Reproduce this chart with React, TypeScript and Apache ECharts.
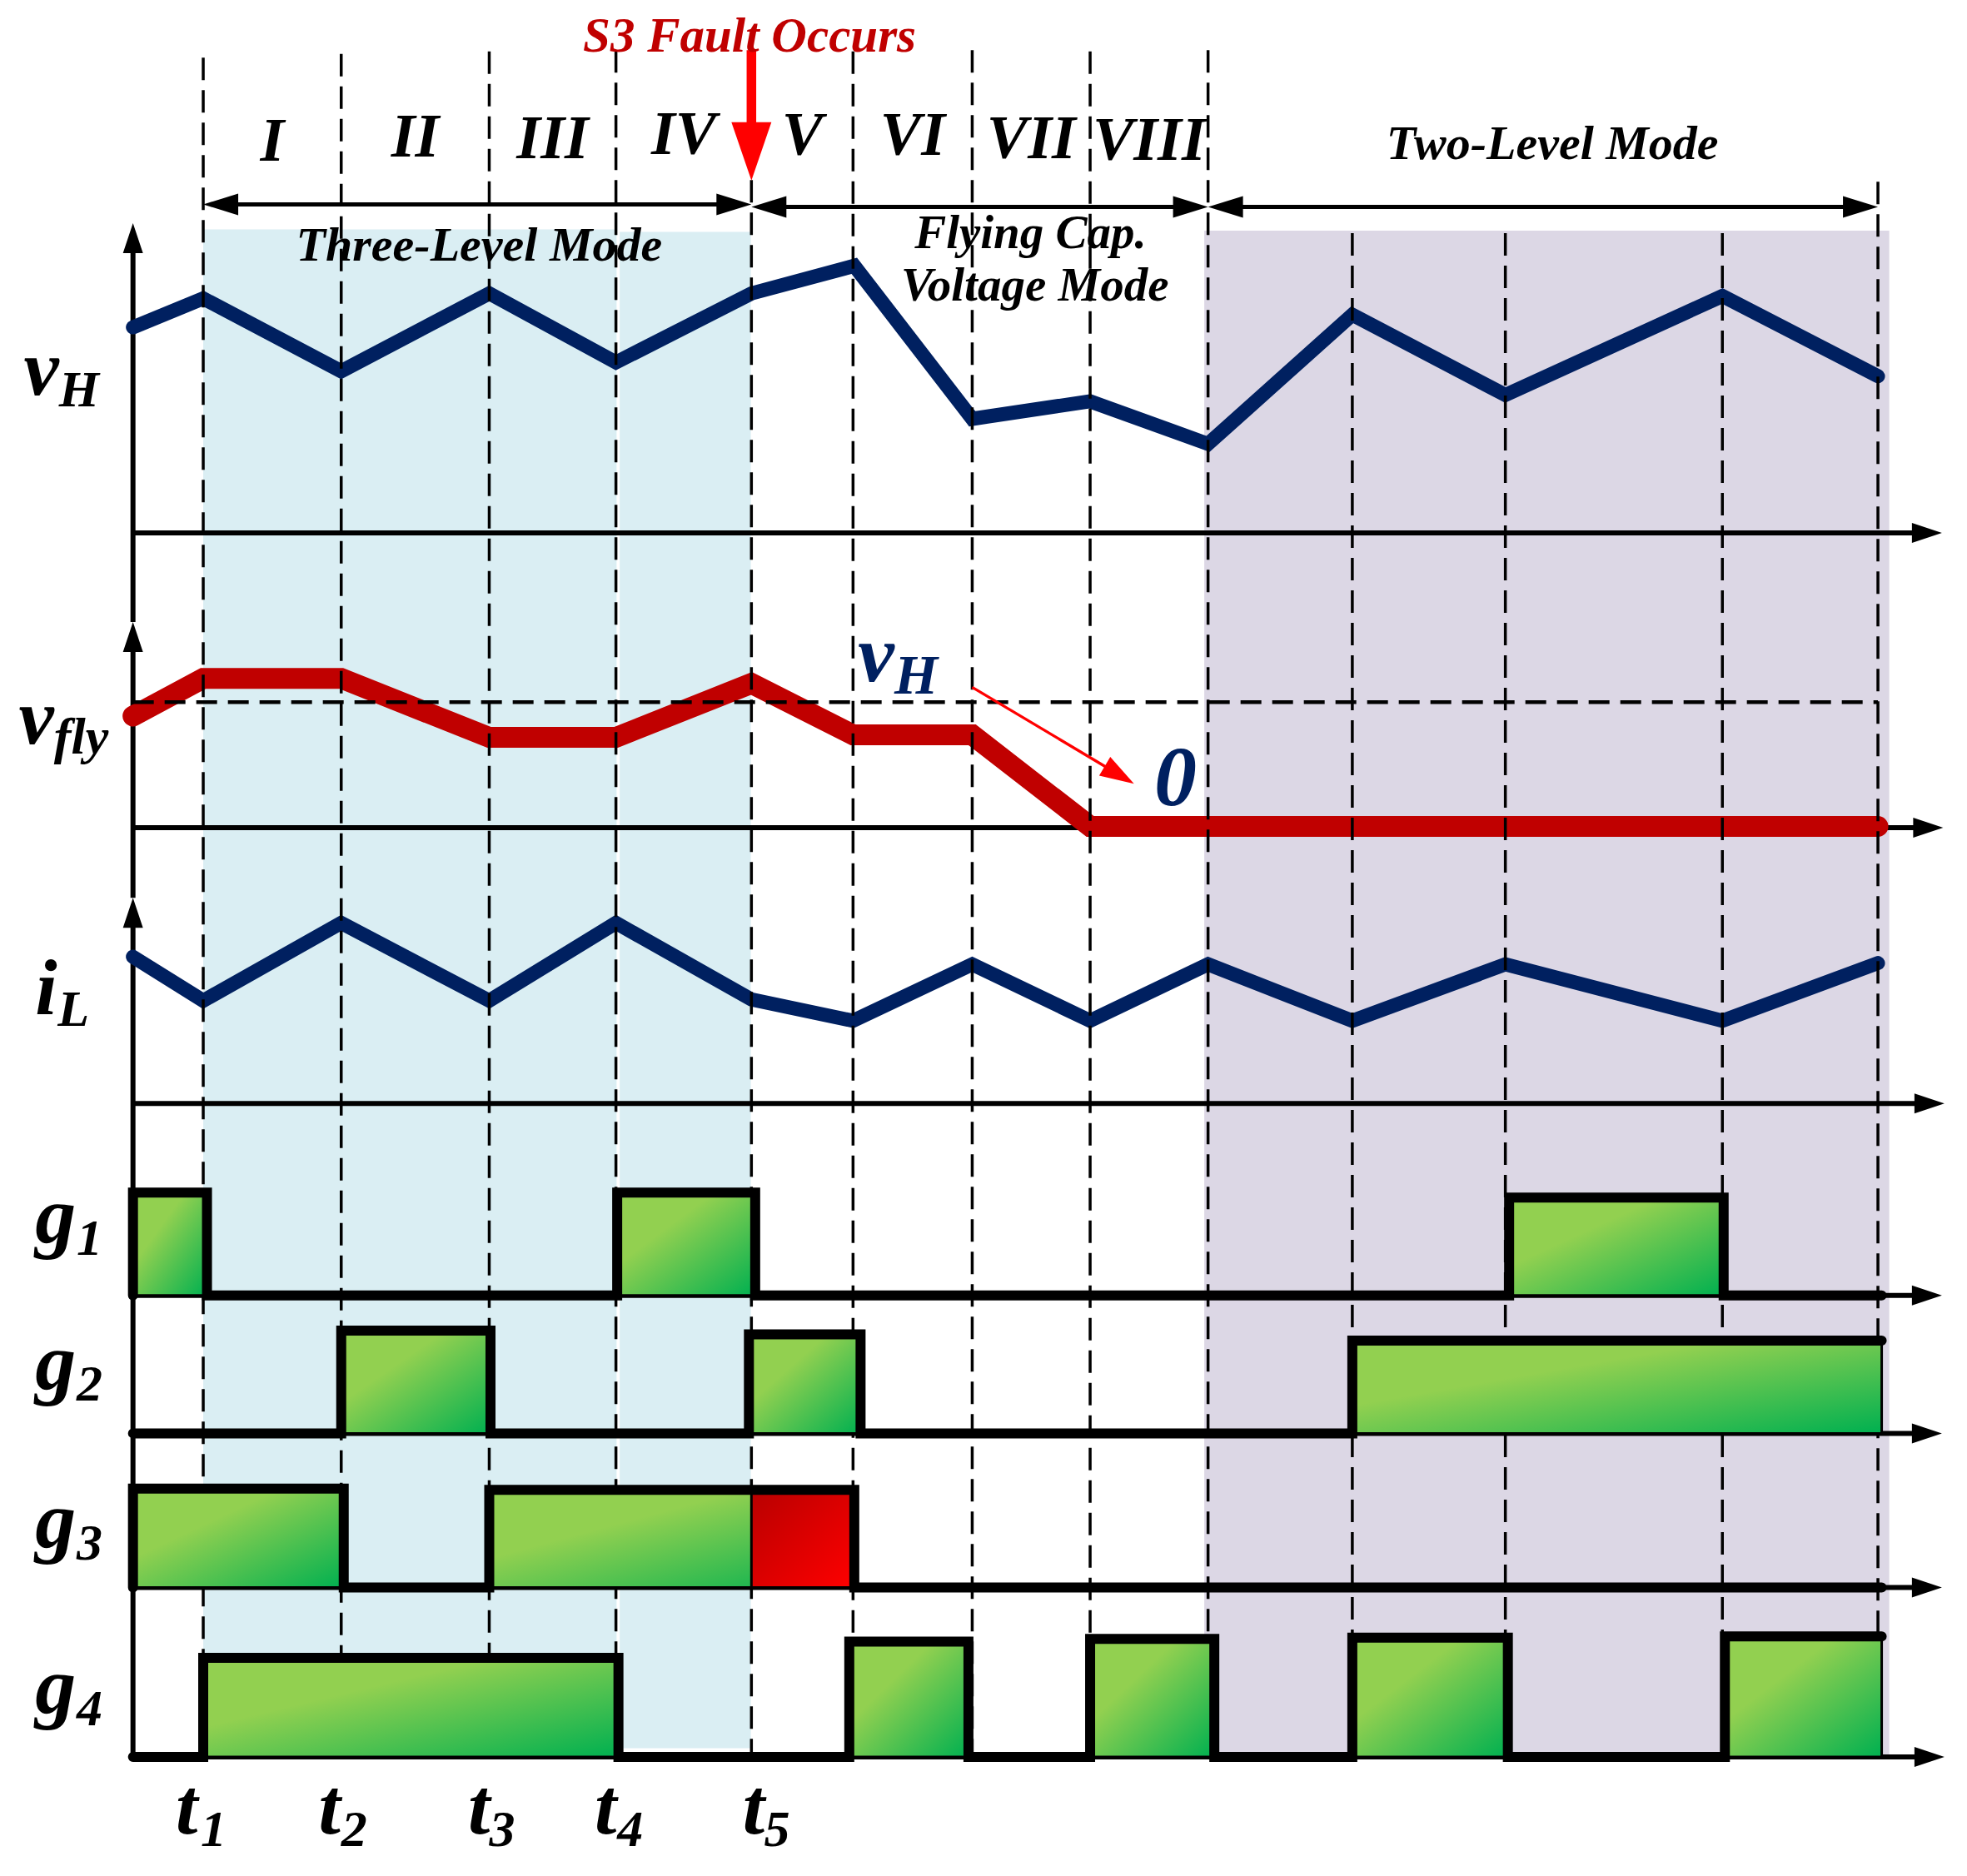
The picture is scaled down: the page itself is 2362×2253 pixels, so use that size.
import React, { useEffect, useRef } from "react";
import * as echarts from "echarts";

// ---------- page frame ----------
const PAGE_W = 2362;
const PAGE_H = 2253;
const X_MAX = 1568; // picture units across
const Y_MAX = 1496; // picture units down

// ---------- data (picture units) ----------
const switchingInstants = [162, 272, 390, 491, 599, 680, 775, 869, 963, 1078, 1200, 1373, 1497];
const phaseNames = ["I", "II", "III", "IV", "V", "VI", "VII", "VIII"];
const instantSubscripts = ["1", "2", "3", "4", "5"];
const modeTitles = ["Three-Level Mode", "Flying Cap.", "Voltage Mode", "Two-Level Mode"];
const faultTitle = "S3 Fault Occurs";
const signalMain = ["v", "v", "i", "g", "g", "g", "g"];
const signalSub = ["H", "fly", "L", "1", "2", "3", "4"];

const vHTime = [106, 162, 272, 390, 491, 599, 681, 775, 869, 963, 1078, 1200, 1373, 1497];
const vHLevel = [261, 238, 296, 234, 289, 234, 212, 334, 320, 354, 251, 315, 236, 300];

const vflyTime = [106, 162, 272, 390, 491, 599, 680, 775, 869, 1497];
const vflyLevel = [571, 541, 541, 588, 588, 545, 586, 586, 659, 659];
const vflyRefLevel = 560;

const iLTime = [106, 162, 272, 390, 491, 599, 680, 775, 869, 963, 1078, 1200, 1373, 1497];
const iLLevel = [763, 798, 736, 798, 736, 797, 814, 769, 814, 769, 814, 769, 814, 768];

// gate pulses: [rise, fall, high level]
const g1Pulses = [[106, 165, 951], [492, 602, 951], [1203, 1374, 955]];
const g2Pulses = [[272, 391, 1061], [597, 686, 1064], [1078, 1500, 1069]];
const g3Pulses = [[106, 274, 1187], [390, 681, 1188]];
const g4Pulses = [[162, 493, 1322], [677, 772, 1309], [869, 968, 1307], [1078, 1202, 1306], [1375, 1500, 1305]];
const gateLow = [1033, 1143, 1266, 1401];
const g3FaultSpan = [599, 681];

// ---------- layout (picture units) ----------
const AXIS_X = 106;
const TRACE_END = 1500;
const axisRows = [425, 660, 880, 1033, 1143, 1266, 1401];
const axisRowEnds = [1548, 1549, 1550, 1548, 1548, 1548, 1550];
const vAxisTips = [716, 496, 178];
const dashTops = [46, 43, 41, 40, 40, 41, 40, 41, 40, 186, 186, 186, 145];
const DASH_BOTTOM = 1400;

const NAVY = "#002060";
const DARK_RED = "#C00000";
const RED = "#FF0000";
const FONT = "'Liberation Serif', 'Times New Roman', serif";

function stepPoints(pulses: number[][], low: number): number[][] {
  const pts: number[][] = [[AXIS_X, low]];
  let lastEnd = AXIS_X;
  for (const [s, e, top] of pulses) {
    pts.push([s, low], [s, top], [e, top]);
    if (e < TRACE_END - 1) pts.push([e, low]);
    lastEnd = e;
  }
  if (lastEnd < TRACE_END - 1) pts.push([TRACE_END, low]);
  return pts;
}

type ArrowStyle = { color: string; width: number; headLen: number; headHalf: number; double?: boolean };

function arrowShape(a: number[], b: number[], st: ArrowStyle) {
  const dx = b[0] - a[0];
  const dy = b[1] - a[1];
  const L = Math.hypot(dx, dy) || 1;
  const ux = dx / L, uy = dy / L, nx = -uy, ny = ux;
  const hl = st.headLen, hh = st.headHalf;
  const head = (tip: number[], dx2: number, dy2: number) => {
    const bx = tip[0] - dx2 * hl, by = tip[1] - dy2 * hl;
    return {
      type: "polygon",
      shape: { points: [[tip[0], tip[1]], [bx + nx * hh, by + ny * hh], [bx - nx * hh, by - ny * hh]] },
      style: { fill: st.color },
    };
  };
  const s = st.double ? [a[0] + ux * (hl - 2), a[1] + uy * (hl - 2)] : a;
  const e = [b[0] - ux * (hl - 2), b[1] - uy * (hl - 2)];
  const children: any[] = [
    { type: "line", shape: { x1: s[0], y1: s[1], x2: e[0], y2: e[1] }, style: { stroke: st.color, lineWidth: st.width } },
    head(b, ux, uy),
  ];
  if (st.double) children.push(head(a, -ux, -uy));
  return { type: "group", children };
}

function arrowSeries(data: number[][], st: ArrowStyle, z: number) {
  return {
    type: "custom",
    z,
    silent: true,
    data,
    renderItem: (_p: any, api: any) => {
      const a = api.coord([api.value(0), api.value(1)]);
      const b = api.coord([api.value(2), api.value(3)]);
      return arrowShape(a, b, st);
    },
  };
}

function traceSeries(times: number[], levels: number[], color: string, width: number, z: number) {
  return {
    type: "line",
    z,
    silent: true,
    symbol: "none",
    showSymbol: false,
    data: times.map((t, i) => [t, levels[i]]),
    lineStyle: { color, width, cap: "round", join: "miter" },
  };
}

type Label = { text: string; x: number; y: number; size: number; color?: string; align?: string };

function buildLabels(): Label[] {
  const L: Label[] = [];
  L.push({ text: faultTitle, x: 597.5, y: 28, size: 59, color: DARK_RED, align: "center" });
  const numeralY = [111.7, 108.4, 109.5, 106.2, 106.6, 106.6, 109.5, 110.6];
  phaseNames.forEach((n, i) => {
    L.push({ text: n, x: (switchingInstants[i] + switchingInstants[i + 1]) / 2, y: numeralY[i], size: 74, align: "center" });
  });
  L.push({ text: modeTitles[0], x: 382, y: 195, size: 58, align: "center" });
  L.push({ text: modeTitles[1], x: 821.5, y: 185, size: 57, align: "center" });
  L.push({ text: modeTitles[2], x: 825, y: 227, size: 57, align: "center" });
  L.push({ text: modeTitles[3], x: 1237.5, y: 114, size: 58, align: "center" });
  // left signal names: main letter + subscript
  const mainPos = [[19, 293.7, 95], [15, 571.7, 95], [28, 787.3, 95], [28, 968.5, 98], [28, 1085.4, 98], [28, 1211.5, 98], [28, 1344, 98]];
  const subPos = [[47, 310, 62], [43, 587, 62], [46, 804, 62], [61, 986.5, 62], [61, 1103, 62], [61, 1230, 62], [61, 1362, 62]];
  signalMain.forEach((m, i) => {
    L.push({ text: m, x: mainPos[i][0], y: mainPos[i][1], size: mainPos[i][2], align: "left" });
    L.push({ text: signalSub[i], x: subPos[i][0], y: subPos[i][1], size: subPos[i][2], align: "left" });
  });
  // instants t1..t5
  const tLeft = [140, 254, 373, 474, 592];
  const tSubLeft = [160, 272, 390, 492, 609];
  instantSubscripts.forEach((s, i) => {
    L.push({ text: "t", x: tLeft[i], y: 1440.7, size: 95, align: "left" });
    L.push({ text: s, x: tSubLeft[i], y: 1458, size: 62, align: "left" });
  });
  // vH -> 0 annotation
  L.push({ text: "v", x: 684, y: 521, size: 98, color: NAVY, align: "left" });
  L.push({ text: "H", x: 713, y: 538, size: 67, color: NAVY, align: "left" });
  L.push({ text: "0", x: 937, y: 619, size: 102, color: NAVY, align: "center" });
  return L;
}

function buildOption() {
  const greenGrad = new echarts.graphic.LinearGradient(0, 0, 1, 1, [
    { offset: 0, color: "#92D050" },
    { offset: 0.35, color: "#92D050" },
    { offset: 1, color: "#00B050" },
  ]);
  const redGrad = new echarts.graphic.LinearGradient(0, 0, 1, 1, [
    { offset: 0, color: "#B80000" },
    { offset: 1, color: "#FF0000" },
  ]);

  const bgRects = [
    [162, 183, 491.5, 1400],
    [494, 185, 598.5, 1394],
    [960, 184, 1506, 1400],
  ];
  const bgColors = ["#DAEEF3", "#DAEEF3", "#DCD7E5"];

  const gatePulses = [g1Pulses, g2Pulses, g3Pulses, g4Pulses];
  const fills: number[][] = [];
  gatePulses.forEach((pulses, gi) => {
    pulses.forEach(([s, e, top]) => fills.push([s, top, e, gateLow[gi], 0]));
  });
  const g3FaultTop = g3Pulses[1][2];
  fills.push([g3FaultSpan[0], g3FaultTop, g3FaultSpan[1], gateLow[2], 1]);

  const labels = buildLabels();

  const series: any[] = [];
  // backgrounds
  series.push({
    type: "custom",
    z: 1,
    silent: true,
    data: bgRects,
    renderItem: (params: any, api: any) => {
      const p0 = api.coord([api.value(0), api.value(1)]);
      const p1 = api.coord([api.value(2), api.value(3)]);
      return {
        type: "rect",
        shape: { x: p0[0], y: p0[1], width: p1[0] - p0[0], height: p1[1] - p0[1] },
        style: { fill: bgColors[params.dataIndex] },
      };
    },
  });
  // axes
  const axisStyle: ArrowStyle = { color: "#000", width: 6, headLen: 36, headHalf: 12 };
  const axisData = axisRows.map((y, i) => [AXIS_X, y, axisRowEnds[i], y]);
  axisData.push([AXIS_X, axisRows[6], AXIS_X, vAxisTips[0]]);
  axisData.push([AXIS_X, vAxisTips[0], AXIS_X, vAxisTips[1]]);
  axisData.push([AXIS_X, vAxisTips[1], AXIS_X, vAxisTips[2]]);
  series.push(arrowSeries(axisData, axisStyle, 2));
  // waveforms
  series.push(traceSeries(vHTime, vHLevel, NAVY, 17, 3));
  series.push(traceSeries(iLTime, iLLevel, NAVY, 17, 3));
  series.push(traceSeries(vflyTime, vflyLevel, DARK_RED, 25, 3));
  // vertical dashed lines
  series.push({
    type: "custom",
    z: 4,
    silent: true,
    data: switchingInstants.map((x, i) => [x, dashTops[i], x, DASH_BOTTOM]),
    renderItem: (_p: any, api: any) => {
      const a = api.coord([api.value(0), api.value(1)]);
      const b = api.coord([api.value(2), api.value(3)]);
      return {
        type: "line",
        shape: { x1: a[0], y1: a[1], x2: b[0], y2: b[1] },
        style: { stroke: "#000", lineWidth: 3.5, lineDash: [27, 12] },
      };
    },
  });
  // vH reference dashed line in vfly panel
  series.push({
    type: "custom",
    z: 4,
    silent: true,
    data: [[AXIS_X, vflyRefLevel, 1497, vflyRefLevel]],
    renderItem: (_p: any, api: any) => {
      const a = api.coord([api.value(0), api.value(1)]);
      const b = api.coord([api.value(2), api.value(3)]);
      return {
        type: "line",
        shape: { x1: a[0], y1: a[1], x2: b[0], y2: b[1] },
        style: { stroke: "#000", lineWidth: 4.5, lineDash: [25, 13] },
      };
    },
  });
  // gate fills
  series.push({
    type: "custom",
    z: 5,
    silent: true,
    data: fills,
    renderItem: (_p: any, api: any) => {
      const p0 = api.coord([api.value(0), api.value(1)]);
      const p1 = api.coord([api.value(2), api.value(3)]);
      return {
        type: "rect",
        shape: { x: p0[0], y: p0[1], width: p1[0] - p0[0], height: p1[1] - p0[1] },
        style: { fill: api.value(4) === 1 ? redGrad : greenGrad, stroke: "#000", lineWidth: 3 },
      };
    },
  });
  // gate step outlines
  gatePulses.forEach((pulses, gi) => {
    const pts = stepPoints(pulses, gateLow[gi]);
    series.push({
      type: "line",
      z: 6,
      silent: true,
      symbol: "none",
      showSymbol: false,
      data: pts,
      lineStyle: { color: "#000", width: 12, cap: "round", join: "miter" },
    });
  });
  // mode span arrows
  series.push(
    arrowSeries(
      [
        [162, 163, 599, 163],
        [599, 165, 963, 165],
        [963, 165, 1497, 165],
      ],
      { color: "#000", width: 5, headLen: 42, headHalf: 13, double: true },
      7
    )
  );
  // fault arrow
  series.push(arrowSeries([[599, 40, 599, 144]], { color: RED, width: 11.5, headLen: 70, headHalf: 24 }, 8));
  // vH -> 0 arrow
  series.push(arrowSeries([[775, 548, 904, 625]], { color: RED, width: 3.3, headLen: 41, headHalf: 13 }, 8));
  // texts
  series.push({
    type: "custom",
    z: 9,
    silent: true,
    data: labels.map((l) => [l.x, l.y]),
    renderItem: (params: any, api: any) => {
      const l = labels[params.dataIndex];
      const p = api.coord([api.value(0), api.value(1)]);
      return {
        type: "text",
        x: p[0],
        y: p[1],
        style: {
          text: l.text,
          fill: l.color || "#000",
          fontFamily: FONT,
          fontStyle: "italic",
          fontWeight: "bold",
          fontSize: l.size,
          align: l.align || "center",
          verticalAlign: "middle",
        },
      };
    },
  });

  return {
    animation: false,
    backgroundColor: "#ffffff",
    grid: { left: 0, right: 0, top: 0, bottom: 0, containLabel: false },
    xAxis: { type: "value", min: 0, max: X_MAX, show: false, splitLine: { show: false } },
    yAxis: { type: "value", min: 0, max: Y_MAX, inverse: true, show: false, splitLine: { show: false } },
    series,
  };
}

export default function App() {
  const ref = useRef<HTMLDivElement>(null);
  useEffect(() => {
    document.body.style.margin = "0";
    document.documentElement.style.overflow = "hidden";
    const chart = echarts.init(ref.current as HTMLDivElement, null, { renderer: "svg" });
    chart.setOption(buildOption() as any);
    return () => chart.dispose();
  }, []);
  return <div ref={ref} style={{ width: PAGE_W, height: PAGE_H, display: "block" }} />;
}
